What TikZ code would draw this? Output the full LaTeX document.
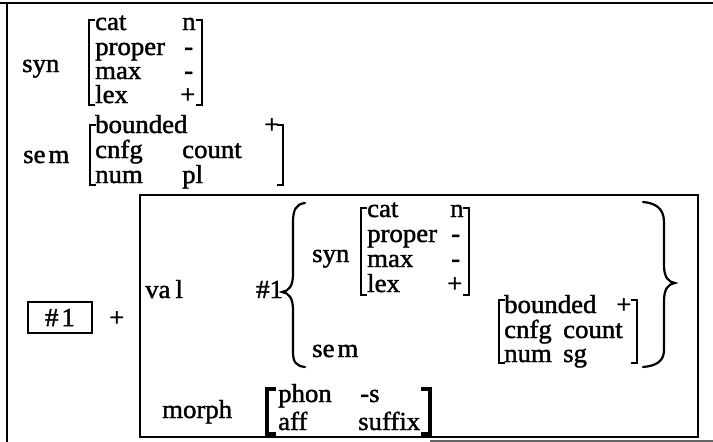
\documentclass[tikz,border=0pt]{standalone}
\usepackage{fontspec}
\setmainfont{Liberation Serif}[FakeStretch=1.03,FakeBold=1.5]
\newcommand\mylb[3]{\draw[brk] (#1+6,#2)--(#1,#2)--(#1,#3)--(#1+6,#3);}
\newcommand\myrb[3]{\draw[brk] (#1-6,#2)--(#1,#2)--(#1,#3)--(#1-6,#3);}
\begin{document}
\begin{tikzpicture}[x=1pt,y=-1pt,
  txt/.style={anchor=base west,inner sep=0pt,font=\fontsize{26}{27}\selectfont},
  brk/.style={line width=1.5pt},
  bbrk/.style={line width=3.6pt},
  brc/.style={line width=2.2pt,line cap=round},
  frame/.style={line width=2.2pt}]
\useasboundingbox (0,0) rectangle (713,442);
\fill[white] (0,0) rectangle (713,442);
% outer frame
\draw[frame] (0,3) -- (713,3);
\draw[frame] (7,3) -- (7,442);
\draw[line width=1.5pt,black!60] (430,441) -- (713,441);
% top syn
\node[txt] (syn1) at (22,72) {syn};
\mylb{89}{20}{105}
\myrb{202}{20}{105}
\node[txt] (a1) at (95,30) {cat};
\node[txt] (a2) at (182,30) {n};
\node[txt] (a3) at (95,55) {proper};
\node[txt] (a4) at (184,55) {-};
\node[txt] (a5) at (95,79) {max};
\node[txt] (a6) at (184,79) {-};
\node[txt] (a7) at (95,103) {lex};
\node[txt] (a8) at (180,103) {+};
% top sem
\node[txt] (sem1) at (23,163) {se\kern3pt m};
\mylb{90}{125}{185}
\myrb{283}{125}{185}
\node[txt] (b1) at (95,133) {bounded};
\node[txt] (b2) at (264,133) {+};
\node[txt] (b3) at (95,158) {cnfg};
\node[txt] (b4) at (182,158) {count};
\node[txt] (b5) at (95,183) {num};
\node[txt] (b6) at (182,183) {pl};
% boxed #1 and plus
\node[draw,line width=1.5pt,minimum width=64pt,minimum height=31pt,inner sep=0pt,font=\fontsize{26}{27}\selectfont] (box1) at (60,317.5) {\#\kern3pt 1};
\node[txt] (plus) at (109,326) {+};
% inner box
\draw[line width=1.7pt] (140,195) rectangle (698,437);
\node[txt] (val) at (145,298) {va\kern5pt l};
\node[txt] (h1) at (256,298) {\#1};
\draw[brc] (305,203) .. controls (296,204) and (293,210) .. (293,222) -- (293,274) .. controls (293,286) and (289,291) .. (282,292) .. controls (289,293) and (293,298) .. (293,310) -- (293,352) .. controls (293,362) and (296,366) .. (305,367);
% inner syn
\node[txt] (syn2) at (312,262) {syn};
\mylb{361}{208}{295}
\myrb{469}{208}{295}
\node[txt] (c1) at (367,217) {cat};
\node[txt] (c2) at (450,217) {n};
\node[txt] (c3) at (367,242) {proper};
\node[txt] (c4) at (451,242) {-};
\node[txt] (c5) at (367,267) {max};
\node[txt] (c6) at (451,267) {-};
\node[txt] (c7) at (367,292) {lex};
\node[txt] (c8) at (447,292) {+};
% inner sem
\node[txt] (sem2) at (312,357) {se\kern3pt m};
\mylb{499}{300}{363}
\myrb{637}{300}{363}
\node[txt] (d1) at (504,313) {bounded};
\node[txt] (d2) at (616,313) {+};
\node[txt] (d3) at (504,338) {cnfg};
\node[txt] (d4) at (563,338) {count};
\node[txt] (d5) at (504,362) {num};
\node[txt] (d6) at (563,362) {sg};
\draw[brc] (643,202) .. controls (655,203) and (664,208) .. (664,222) -- (664,265) .. controls (664,277) and (668,282) .. (675,283) .. controls (668,284) and (664,289) .. (664,301) -- (664,350) .. controls (664,362) and (655,366) .. (643,367);
% morph
\node[txt] (morph) at (162,418) {morph};
\draw[bbrk] (276,389) -- (267,389) -- (267,434) -- (276,434);
\draw[bbrk] (421,389) -- (430,389) -- (430,434) -- (421,434);
\node[txt] (e1) at (278,402) {phon};
\node[txt] (e2) at (360,402) {-s};
\node[txt] (e3) at (278,430) {aff};
\node[txt] (e4) at (358,430) {suffix};
\end{tikzpicture}
\end{document}
